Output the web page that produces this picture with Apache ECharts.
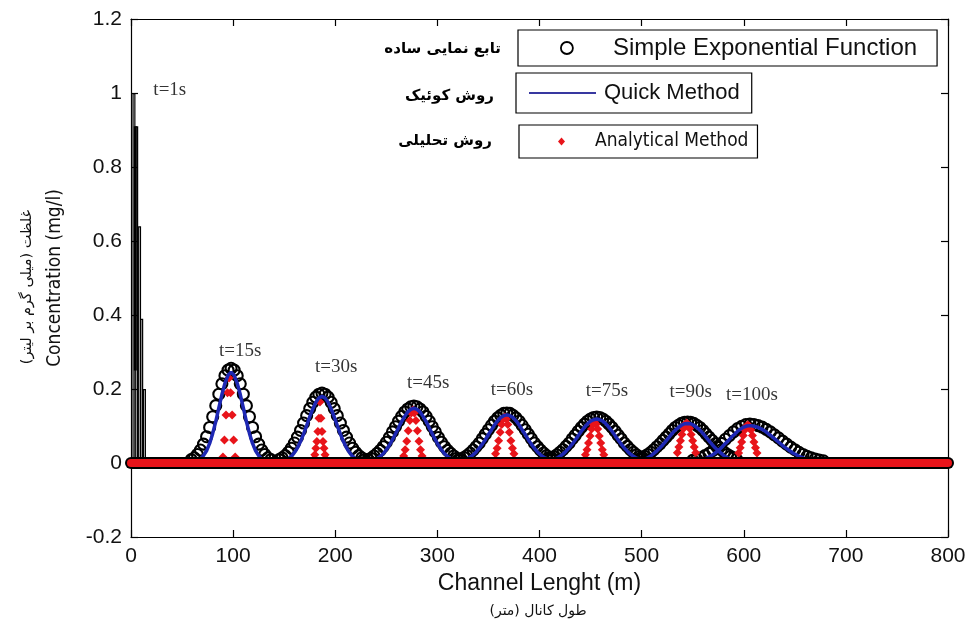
<!DOCTYPE html>
<html>
<head>
<meta charset="utf-8">
<script src="https://cdn.jsdelivr.net/npm/echarts@6/dist/echarts.min.js"></script>
<style>html,body{margin:0;padding:0;background:#fff}#c{width:969px;height:624px}</style>
</head>
<body>
<div id="c"></div>
<script>
// ---------- data ----------
const timeLabels = ['t=1s','t=15s','t=30s','t=45s','t=60s','t=75s','t=90s','t=100s'];
const timeLabelX = [38, 107, 201, 291, 373, 466, 548, 608];
const timeLabelY = [1.008, 0.303, 0.26, 0.216, 0.197, 0.195, 0.193, 0.184];

// Simple Exponential Function (open circles), one array per time
const simpleX = [
  [59,62,65,68,71,74,77,80,83,86,89,92,95,98,101,104,107,110,113,116,119,122,125,128,131,134,137],
  [145,148,151,154,157,160,163,166,169,172,175,178,181,184,187,190,193,196,199,202,205,208,211,214,217,220,223,226,229],
  [232,235,238,241,244,247,250,253,256,259,262,265,268,271,274,277,280,283,286,289,292,295,298,301,304,307,310,313,316,319,322],
  [320,323,326,329,332,335,338,341,344,347,350,353,356,359,362,365,368,371,374,377,380,383,386,389,392,395,398,401,404,407,410,413,416],
  [408,411,414,417,420,423,426,429,432,435,438,441,444,447,450,453,456,459,462,465,468,471,474,477,480,483,486,489,492,495,498,501,504],
  [497,500,503,506,509,512,515,518,521,524,527,530,533,536,539,542,545,548,551,554,557,560,563,566,569,572,575,578,581,584,587,590,593],
  [550,554,558,562,566,570,574,578,582,586,590,594,598,602,606,610,614,618,622,626,630,634,638,642,646,650,654,658,662,666,670,674,678]
];
const simpleY = [
  [.009,.014,.023,.035,.051,.071,.096,.125,.155,.186,.214,.236,.251,.256,.251,.236,.214,.186,.155,.125,.096,.071,.051,.035,.023,.014,.009],
  [.009,.014,.020,.029,.040,.054,.070,.088,.108,.128,.147,.164,.178,.186,.189,.186,.178,.164,.147,.128,.108,.088,.070,.054,.040,.029,.020,.014,.009],
  [.009,.013,.019,.026,.034,.044,.056,.069,.084,.098,.113,.126,.138,.146,.152,.154,.152,.146,.138,.126,.113,.098,.084,.069,.056,.044,.034,.026,.019,.013,.009],
  [.008,.011,.015,.020,.027,.035,.044,.054,.066,.078,.090,.102,.113,.122,.129,.134,.135,.134,.129,.122,.113,.102,.090,.078,.066,.054,.044,.035,.027,.020,.015,.011,.008],
  [.009,.013,.017,.022,.029,.036,.045,.054,.065,.075,.086,.096,.105,.113,.119,.123,.124,.123,.119,.113,.105,.096,.086,.075,.065,.054,.045,.036,.029,.022,.017,.013,.009],
  [.010,.014,.018,.023,.029,.036,.044,.052,.061,.070,.079,.088,.096,.102,.107,.110,.111,.110,.107,.102,.096,.088,.079,.070,.061,.052,.044,.036,.029,.023,.018,.014,.010],
  [.007,.010,.014,.020,.026,.034,.043,.053,.064,.074,.084,.093,.099,.104,.105,.104,.101,.097,.091,.084,.076,.068,.059,.051,.043,.036,.029,.023,.018,.014,.011,.008,.006]
];

// Quick Method (blue line), one array per time
const quickX = [
  [68,71,74,77,80,83,86,89,92,95,98,101,104,107,110,113,116,119,122,125,128],
  [151,154,157,160,163,166,169,172,175,178,181,184,187,190,193,196,199,202,205,208,211,214,217,220,223],
  [238,241,244,247,250,253,256,259,262,265,268,271,274,277,280,283,286,289,292,295,298,301,304,307,310,313,316],
  [326,329,332,335,338,341,344,347,350,353,356,359,362,365,368,371,374,377,380,383,386,389,392,395,398,401,404,407,410],
  [411,414,417,420,423,426,429,432,435,438,441,444,447,450,453,456,459,462,465,468,471,474,477,480,483,486,489,492,495,498,501],
  [500,503,506,509,512,515,518,521,524,527,530,533,536,539,542,545,548,551,554,557,560,563,566,569,572,575,578,581,584,587,590],
  [561,564,567,570,573,576,579,582,585,588,591,594,597,600,603,606,609,612,615,618,621,624,627,630,633,636,639,642,645,648,651,654,657,660,663]
];
const quickY = [
  [.011,.020,.033,.053,.080,.112,.149,.185,.216,.237,.245,.237,.216,.185,.149,.112,.080,.053,.033,.020,.011],
  [.007,.011,.018,.028,.041,.058,.079,.101,.125,.146,.164,.176,.180,.176,.164,.146,.125,.101,.079,.058,.041,.028,.018,.011,.007],
  [.008,.012,.018,.025,.036,.048,.063,.079,.095,.112,.126,.138,.145,.148,.145,.138,.126,.112,.095,.079,.063,.048,.036,.025,.018,.012,.008],
  [.007,.011,.016,.022,.030,.040,.051,.063,.077,.090,.103,.114,.123,.128,.130,.128,.123,.114,.103,.090,.077,.063,.051,.040,.030,.022,.016,.011,.007],
  [.006,.009,.013,.018,.024,.032,.041,.051,.062,.074,.086,.096,.106,.113,.117,.119,.117,.113,.106,.096,.086,.074,.062,.051,.041,.032,.024,.018,.013,.009,.006],
  [.007,.010,.014,.019,.026,.033,.041,.050,.060,.070,.080,.089,.096,.102,.106,.107,.106,.102,.096,.089,.080,.070,.060,.050,.041,.033,.026,.019,.014,.010,.007],
  [.010,.014,.018,.023,.029,.036,.044,.053,.061,.070,.078,.086,.092,.097,.100,.101,.100,.098,.095,.091,.086,.079,.073,.066,.059,.052,.045,.039,.033,.027,.023,.018,.015,.012,.009]
];

// Analytical Method (red diamonds), one array per time
const analX = [
  [88.5,90,91.5,93,94.5,96,97.5,99,100.5,102,103.5],
  [179,180,181,182,183,184,185,186,187,188,189,190,191],
  [267,268.5,270,271.5,273,274.5,276,277.5,279,280.5,282,283.5,285],
  [357,358.5,360,361.5,363,364.5,366,367.5,369,370.5,372,373.5,375],
  [445,446.5,448,449.5,451,452.5,454,455.5,457,458.5,460,461.5,463],
  [535,536.5,538,539.5,541,542.5,544,545.5,547,548.5,550,551.5,553],
  [595,596.5,598,599.5,601,602.5,604,605.5,607,608.5,610,611.5,613]
];
const analY = [
  [.003,.016,.062,.130,.190,.230,.190,.130,.062,.016,.003],
  [.010,.022,.040,.058,.085,.121,.165,.121,.085,.058,.040,.022,.010],
  [.019,.036,.059,.087,.115,.135,.143,.135,.115,.087,.059,.036,.019],
  [.025,.040,.060,.083,.104,.119,.124,.119,.104,.083,.060,.040,.025],
  [.022,.036,.054,.073,.092,.105,.110,.105,.092,.073,.054,.036,.022],
  [.028,.043,.060,.077,.093,.104,.108,.104,.093,.077,.060,.043,.028],
  [.027,.041,.057,.074,.089,.099,.103,.099,.089,.074,.057,.041,.027]
];

// zero concentration along the whole channel
const baseX = [0, 800];
const baseY = [0, 0];

// t = 1 s spike
const spikeX = [2.9, 5.6, 8.4, 10.5, 13.2];
const spikeY = [1.0, 0.91, 0.64, 0.39, 0.2];
const spikeFillX = [4.2, 4.2];
const spikeFillY = [0.25, 0.91];

// ---------- chart ----------
const zip = (xs, ys) => xs.map((x, i) => [x, ys[i]]);
const FONT = "'Liberation Sans', Arial, sans-serif";
const NARROW = "'Liberation Sans Narrow', 'Arial Narrow', 'DejaVu Sans Condensed', sans-serif";
const FA = "'DejaVu Sans', sans-serif";
const BLUE = '#1e28b4';
const RED = '#e8141a';

const simpleData = [].concat(...simpleX.map((xs, i) => zip(xs, simpleY[i])));
const analData = [].concat(...analX.map((xs, i) => zip(xs, analY[i])));

const series = [];
series.push({
  type: 'bar', name: 'spike', data: zip(spikeX, spikeY), barWidth: 3, silent: true,
  itemStyle: { color: 'rgba(0,0,0,0)', borderColor: '#000', borderWidth: 1.2, opacity: 1 }
});
series.push({
  type: 'line', name: 'spikeFill', data: zip(spikeFillX, spikeFillY), symbol: 'none', silent: true,
  lineStyle: { color: '#000', width: 3 }
});
series.push({
  type: 'scatter', name: 'Simple Exponential Function', data: simpleData, symbol: 'circle', symbolSize: 11,
  itemStyle: { color: 'rgba(0,0,0,0)', borderColor: '#000', borderWidth: 2.1, opacity: 1 }
});
quickX.forEach((xs, i) => series.push({
  type: 'line', name: 'Quick Method', data: zip(xs, quickY[i]), symbol: 'none', smooth: false,
  lineStyle: { color: BLUE, width: 3.5 }, itemStyle: { color: BLUE }
}));
series.push({
  type: 'scatter', name: 'Analytical Method', data: analData, symbol: 'diamond', symbolSize: [9, 9],
  itemStyle: { color: RED, opacity: 1 }
});
series.push({
  type: 'line', name: 'base1', data: zip(baseX, baseY), symbol: 'none', silent: true,
  lineStyle: { color: '#000', width: 12, cap: 'round' }
});
series.push({
  type: 'line', name: 'base2', data: zip(baseX, baseY), symbol: 'none', silent: true,
  lineStyle: { color: RED, width: 8, cap: 'round' }
});
series.push({
  type: 'scatter', name: 'labels', data: zip(timeLabelX, timeLabelY).map((p, i) => ({ value: p, name: timeLabels[i] })),
  symbolSize: 0, silent: true,
  label: { show: true, position: 'inside', formatter: p => p.name, color: '#000',
           fontFamily: "'Liberation Serif', 'Times New Roman', serif", fontSize: 19 }
});

const axisCommonX = {
  type: 'value', min: 0, max: 800, interval: 100,
  axisLine: { show: true, onZero: false, lineStyle: { color: '#000', width: 1.2 } },
  axisTick: { show: true, inside: true, length: 7, lineStyle: { color: '#000', width: 1.2 } },
  splitLine: { show: false }
};
const axisCommonY = {
  type: 'value', min: -0.2, max: 1.2, interval: 0.2,
  axisLine: { show: true, onZero: false, lineStyle: { color: '#000', width: 1.2 } },
  axisTick: { show: true, inside: true, length: 7, lineStyle: { color: '#000', width: 1.2 } },
  splitLine: { show: false }
};

const option = {
  animation: false,
  backgroundColor: '#fff',
  grid: { left: 131, right: 21, top: 19, bottom: 87, containLabel: false },
  xAxis: [
    Object.assign({}, axisCommonX, {
      position: 'bottom',
      axisLabel: { color: '#111', fontSize: 21, fontFamily: FONT, margin: 9 },
      name: 'Channel Lenght (m)', nameLocation: 'middle', nameGap: 33,
      nameTextStyle: { color: '#111', fontSize: 23, fontFamily: FONT }
    }),
    Object.assign({}, axisCommonX, { position: 'top', axisLabel: { show: false } })
  ],
  yAxis: [
    Object.assign({}, axisCommonY, {
      position: 'left',
      axisLabel: { color: '#111', fontSize: 21, fontFamily: FONT, margin: 9,
                   formatter: v => String(Math.round(v * 10) / 10) },
      name: 'Concentration (mg/l)', nameLocation: 'middle', nameGap: 66, nameRotate: 90,
      nameTextStyle: { color: '#111', fontSize: 19, fontFamily: NARROW }
    }),
    Object.assign({}, axisCommonY, { position: 'right', axisLabel: { show: false } })
  ],
  legend: [
    {
      data: [{ name: 'Simple Exponential Function', icon: 'circle',
               itemStyle: { color: '#fff', borderColor: '#000', borderWidth: 1.8 } }],
      left: 518, top: 30, itemWidth: 12, itemHeight: 12, selectedMode: false,
      padding: [6, 20, 6, 42], borderColor: '#000', borderWidth: 1.2,
      textStyle: { color: '#111', fontSize: 24, fontFamily: FONT, padding: [0, 0, 0, 35] }
    },
    {
      data: [{ name: 'Quick Method', icon: 'rect', itemStyle: { color: '#3838a0' } }],
      left: 516, top: 73, itemWidth: 67, itemHeight: 2, selectedMode: false,
      padding: [9, 12, 9, 13], borderColor: '#000', borderWidth: 1.2,
      textStyle: { color: '#111', fontSize: 22, fontFamily: FONT, padding: [0, 0, 0, 3] }
    },
    {
      data: [{ name: 'Analytical Method', icon: 'diamond', itemStyle: { color: RED } }],
      left: 519, top: 125, itemWidth: 7, itemHeight: 8, selectedMode: false,
      padding: [7, 9, 7, 39], borderColor: '#000', borderWidth: 1.2,
      textStyle: { color: '#111', fontSize: 19, fontFamily: NARROW, padding: [0, 0, 0, 25] }
    }
  ],
  graphic: [
    { type: 'text', right: 969 - 501, top: 42, style: { text: 'تابع نمایی ساده', fill: '#000', font: 'bold 15px ' + FA } },
    { type: 'text', right: 969 - 494, top: 89, style: { text: 'روش کوئیک', fill: '#000', font: 'bold 15px ' + FA } },
    { type: 'text', right: 969 - 492, top: 134, style: { text: 'روش تحلیلی', fill: '#000', font: 'bold 15px ' + FA } },
    { type: 'text', x: 27, y: 287, rotation: Math.PI / 2,
      style: { text: 'غلظت (میلی گرم بر لیتر)', fill: '#111', font: '14.5px ' + FA, align: 'center', verticalAlign: 'middle' } },
    { type: 'text', x: 538, y: 611,
      style: { text: 'طول کانال (متر)', fill: '#111', font: '14px ' + FA, align: 'center', verticalAlign: 'middle' } }
  ],
  series: series
};

const chart = echarts.init(document.getElementById('c'), null, { renderer: 'canvas' });
chart.setOption(option);
</script>
</body>
</html>
